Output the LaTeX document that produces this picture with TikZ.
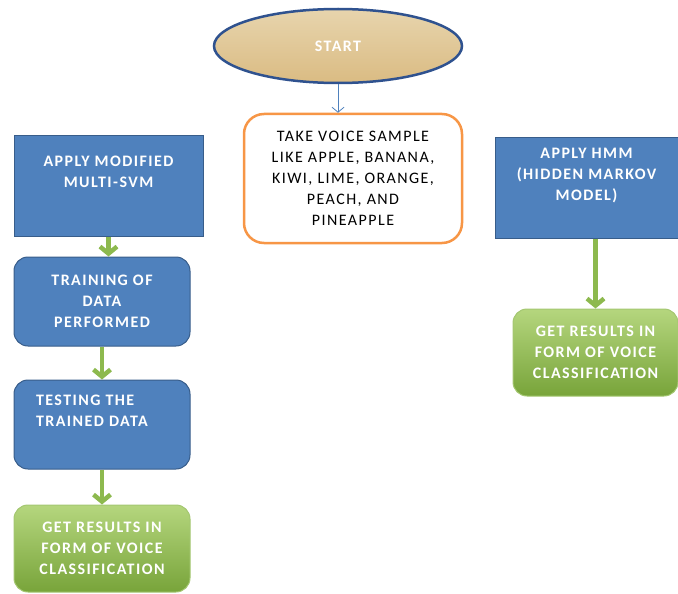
\documentclass[tikz,border=0pt]{standalone}
\usepackage{fontspec}
\setmainfont{Carlito}[LetterSpace=9]
\usetikzlibrary{shapes.geometric,arrows.meta}
\definecolor{boxblue}{HTML}{4F81BD}
\definecolor{edgeblue}{HTML}{385D8A}
\definecolor{ovalblue}{HTML}{2F528F}
\definecolor{papyrus}{HTML}{DDC28A}
\definecolor{samplered}{HTML}{F79646}
\definecolor{leafgreen}{HTML}{8DB94E}
\definecolor{greentop}{HTML}{B5D67E}
\definecolor{greenbot}{HTML}{78A43A}

\begin{document}
\begin{tikzpicture}[x=1pt, y=-1pt] %y runs downwards, as in the picture
\tikzstyle{every node} = [font=\fontsize{16}{21}\selectfont, inner sep=0pt]
\tikzstyle{oval} = [ellipse, draw=ovalblue, line width=2.5pt, top color=papyrus!70!white, bottom color=papyrus!90!brown, text=white, font=\fontsize{16}{21}\selectfont\bfseries, minimum width=248pt, minimum height=74pt]
\tikzstyle{samplebox} = [rectangle, rounded corners=20pt, draw=samplered, line width=2.5pt, fill=white, align=center, minimum width=218pt, minimum height=129pt]
\tikzstyle{bluebox} = [rectangle, draw=edgeblue, line width=1pt, fill=boxblue, text=white, font=\fontsize{16}{21}\selectfont\bfseries]
\tikzstyle{roundblue} = [bluebox, rounded corners=14pt]
\tikzstyle{resultbox} = [rectangle, rounded corners=14pt, draw=leafgreen!80!white, line width=1pt, top color=greentop, bottom color=greenbot, text=white, align=center, font=\fontsize{16}{21}\selectfont\bfseries, minimum width=176pt, minimum height=87pt]
\tikzstyle{greenarrow} = [draw=leafgreen, line width=4.5pt, -{Straight Barb[length=7pt, width=17pt]}]
\useasboundingbox (0,0) rectangle (678,594);

\node[oval] (start) at (338,46) {START};
\node[samplebox] (sample) at (353,178.5) {TAKE VOICE SAMPLE\\LIKE APPLE, BANANA,\\KIWI, LIME, ORANGE,\\PEACH, AND\\PINEAPPLE};

% left branch
\node[bluebox] (svm) at (108.5,185.5) {\parbox[t][101pt][t]{189pt}{\centering\vspace*{21pt}APPLY MODIFIED\\MULTI-SVM}};
\node[roundblue, align=center, minimum width=176pt, minimum height=89pt] (train) at (102,301.5) {TRAINING OF\\DATA\\PERFORMED};
\node[roundblue] (test) at (102,424.5) {\parbox[t][89pt][t]{176pt}{\vspace*{15pt}\hspace*{22pt}TESTING THE\\\hspace*{22pt}TRAINED DATA}};
\node[resultbox] (res1) at (102,548.5) {GET RESULTS IN\\FORM OF VOICE\\CLASSIFICATION};

% right branch
\node[bluebox] (hmm) at (586.5,187.5) {\parbox[t][101pt][t]{183pt}{\centering\vspace*{11pt}APPLY HMM\\(HIDDEN MARKOV\\MODEL)}};
\node[resultbox, minimum width=165pt] (res2) at (595.5,352.5) {GET RESULTS IN\\FORM OF VOICE\\CLASSIFICATION};

\draw[draw=boxblue, line width=0.8pt, -{Straight Barb[length=5pt, width=12pt]}] (start.south) -- (start.south |- sample.north);
\foreach \from/\to in {svm/train, train/test, test/res1}
\draw[greenarrow] (\from.south) -- (\from.south |- \to.north);
\draw[greenarrow] (res2.north |- hmm.south) -- (res2.north);
\end{tikzpicture}
\end{document}
